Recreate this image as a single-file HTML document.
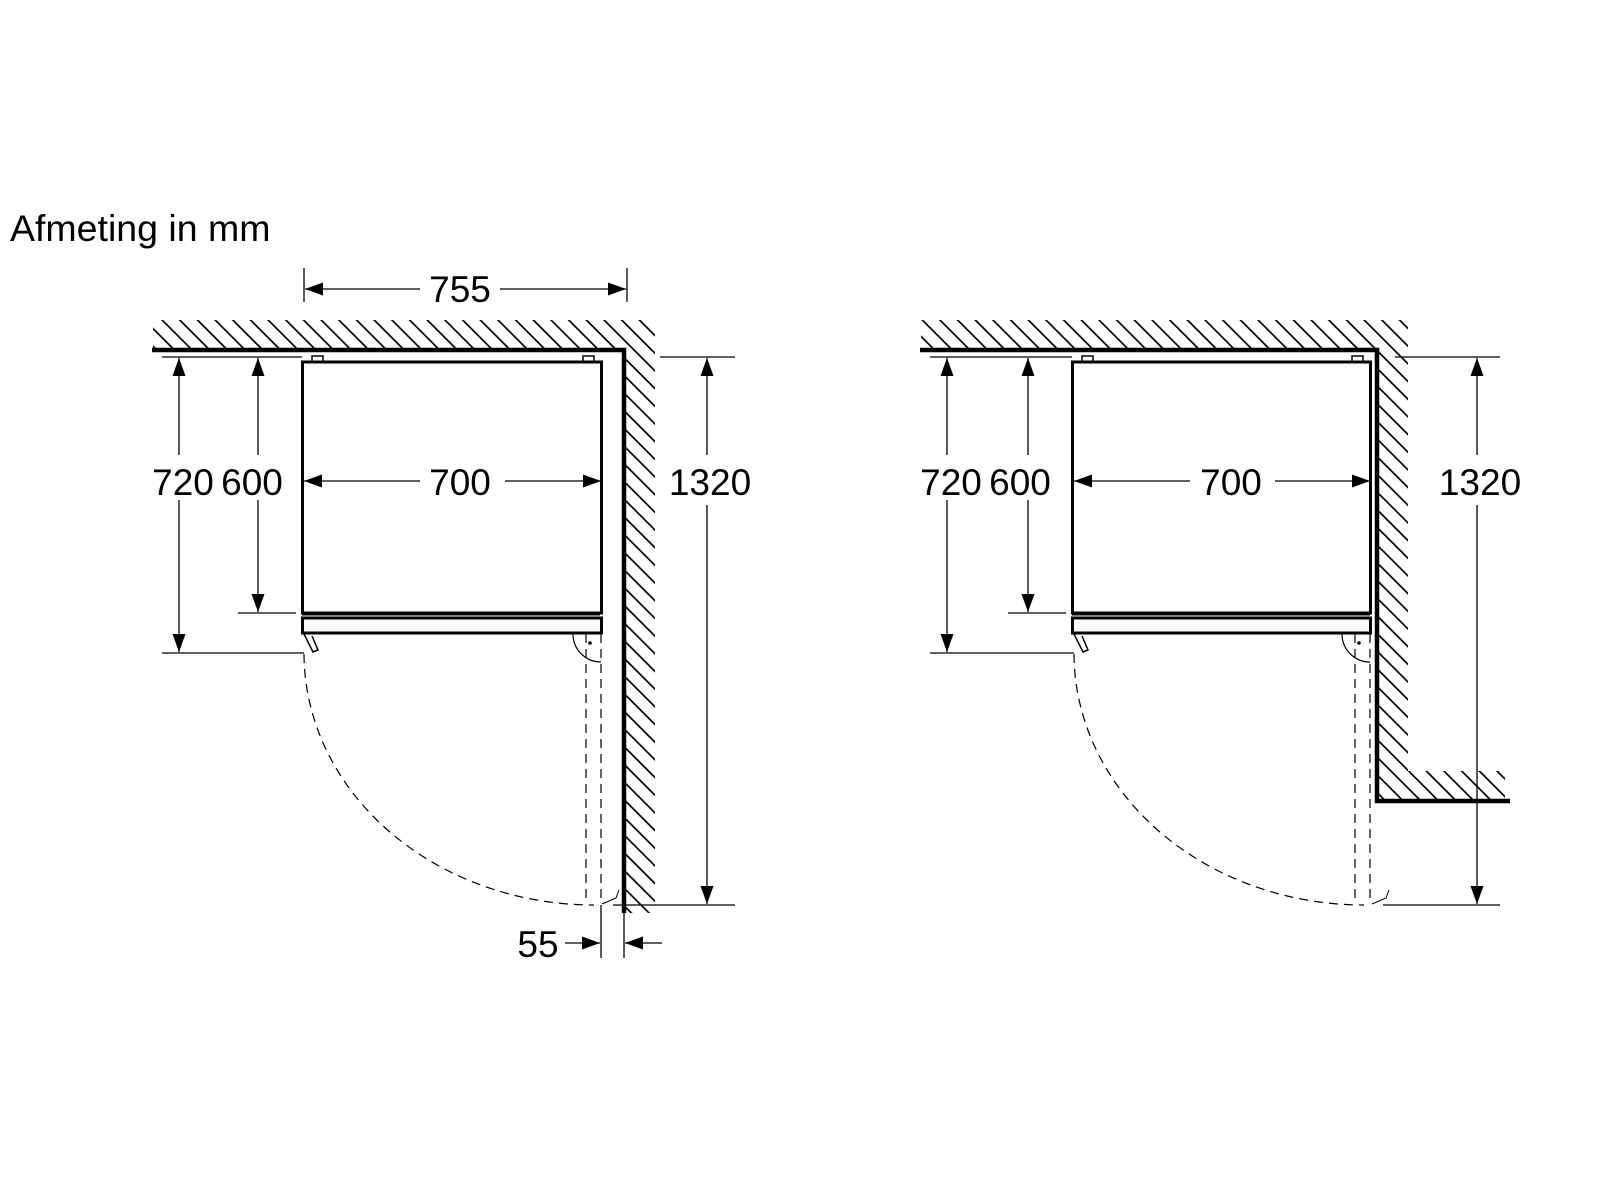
<!DOCTYPE html>
<html><head><meta charset="utf-8"><style>
html,body{margin:0;padding:0;background:#fff;width:1600px;height:1200px;overflow:hidden}
svg{display:block}
text{font-family:"Liberation Sans",Arial,sans-serif;fill:#000}
</style></head><body>
<svg width="1600" height="1200" viewBox="0 0 1600 1200" xmlns="http://www.w3.org/2000/svg">
<defs>
<pattern id="h" width="12.5" height="12.5" patternUnits="userSpaceOnUse" patternTransform="rotate(-45)">
<line x1="0" y1="0" x2="0" y2="12.5" stroke="#000" stroke-width="3.4"/>
</pattern>
<marker id="b" viewBox="0 0 18 13" refX="18" refY="6.5" markerWidth="18" markerHeight="13" markerUnits="userSpaceOnUse" orient="auto">
<path d="M0,0 L18,6.5 L0,13 z" fill="#000"/>
</marker>
</defs>
<text x="10" y="241" font-size="37.5">Afmeting in mm</text>

<!-- LEFT -->
<g>
<polygon points="153,320 655,320 655,913 624,913 624,350 153,350" fill="url(#h)"/>
<path d="M152,350 H624 V913" fill="none" stroke="#000" stroke-width="4.5"/>
<line x1="304" y1="268" x2="304" y2="302" stroke="#000" stroke-width="1.3"/>
<line x1="627" y1="268" x2="627" y2="302" stroke="#000" stroke-width="1.3"/>
<line x1="420" y1="289" x2="305" y2="289" stroke="#000" stroke-width="1.3" marker-end="url(#b)"/>
<line x1="500" y1="289" x2="626" y2="289" stroke="#000" stroke-width="1.3" marker-end="url(#b)"/>
<text x="460" y="302" font-size="37" text-anchor="middle">755</text>
<rect x="312" y="356" width="11" height="6" fill="none" stroke="#000" stroke-width="1.5"/>
<rect x="583" y="356" width="11" height="6" fill="none" stroke="#000" stroke-width="1.5"/>
<rect x="302.5" y="362" width="299" height="251" fill="none" stroke="#000" stroke-width="3"/>
<line x1="302" y1="615" x2="600" y2="615" stroke="#000" stroke-width="1"/>
<rect x="302.5" y="618" width="299" height="15" fill="none" stroke="#000" stroke-width="3"/>
<path d="M304,634 L313,652 L318,650 L312,636" fill="none" stroke="#000" stroke-width="1.5"/>
<line x1="420" y1="481" x2="304" y2="481" stroke="#000" stroke-width="1.3" marker-end="url(#b)"/>
<line x1="505" y1="481" x2="601" y2="481" stroke="#000" stroke-width="1.3" marker-end="url(#b)"/>
<text x="460" y="495" font-size="37" text-anchor="middle">700</text>
<line x1="162" y1="357" x2="302" y2="357" stroke="#000" stroke-width="1.3"/>
<line x1="238" y1="613" x2="296" y2="613" stroke="#000" stroke-width="1.3"/>
<line x1="162" y1="653" x2="304" y2="653" stroke="#000" stroke-width="1.3"/>
<line x1="179" y1="455" x2="179" y2="358" stroke="#000" stroke-width="1.3" marker-end="url(#b)"/>
<line x1="179" y1="500" x2="179" y2="652" stroke="#000" stroke-width="1.3" marker-end="url(#b)"/>
<line x1="258" y1="455" x2="258" y2="358" stroke="#000" stroke-width="1.3" marker-end="url(#b)"/>
<line x1="258" y1="500" x2="258" y2="612" stroke="#000" stroke-width="1.3" marker-end="url(#b)"/>
<text x="183" y="495" font-size="37" text-anchor="middle">720</text>
<text x="252" y="495" font-size="37" text-anchor="middle">600</text>
<line x1="660" y1="357" x2="735" y2="357" stroke="#000" stroke-width="1.3"/>
<line x1="613" y1="905" x2="735" y2="905" stroke="#000" stroke-width="1.3"/>
<line x1="707" y1="455" x2="707" y2="358" stroke="#000" stroke-width="1.3" marker-end="url(#b)"/>
<line x1="707" y1="505" x2="707" y2="904" stroke="#000" stroke-width="1.3" marker-end="url(#b)"/>
<text x="710" y="495" font-size="37" text-anchor="middle">1320</text>
<path d="M304,654 A290,252 0 0 0 594,905" fill="none" stroke="#000" stroke-width="1.2" stroke-dasharray="9,6"/>
<line x1="586" y1="634" x2="586" y2="903" stroke="#000" stroke-width="1.2" stroke-dasharray="9,6"/>
<line x1="601" y1="634" x2="601" y2="903" stroke="#000" stroke-width="1.2" stroke-dasharray="9,6"/>
<path d="M573,634 A28,28 0 0 0 601,662" fill="none" stroke="#000" stroke-width="1.2"/>
<circle cx="590" cy="643" r="1.8" fill="#000"/>
<path d="M602,904 L616,898 L619,890" fill="none" stroke="#000" stroke-width="1"/>
<line x1="601" y1="905" x2="601" y2="958" stroke="#000" stroke-width="1.3"/>
<line x1="624" y1="913" x2="624" y2="958" stroke="#000" stroke-width="1.3"/>
<line x1="565" y1="943" x2="600" y2="943" stroke="#000" stroke-width="1.3" marker-end="url(#b)"/>
<line x1="662" y1="943" x2="625" y2="943" stroke="#000" stroke-width="1.3" marker-end="url(#b)"/>
<text x="538" y="957" font-size="37" text-anchor="middle">55</text>
</g>

<!-- RIGHT -->
<g>
<polygon points="921,320 1408,320 1408,771 1505,771 1505,801 1377,801 1377,350 921,350" fill="url(#h)"/>
<path d="M920,350 H1377 V801 H1510" fill="none" stroke="#000" stroke-width="4.5"/>
<rect x="1082" y="356" width="11" height="6" fill="none" stroke="#000" stroke-width="1.5"/>
<rect x="1352" y="356" width="11" height="6" fill="none" stroke="#000" stroke-width="1.5"/>
<rect x="1072.5" y="362" width="298" height="251" fill="none" stroke="#000" stroke-width="3"/>
<line x1="1072" y1="615" x2="1370" y2="615" stroke="#000" stroke-width="1"/>
<rect x="1072.5" y="618" width="298" height="15" fill="none" stroke="#000" stroke-width="3"/>
<path d="M1074,634 L1083,652 L1088,650 L1082,636" fill="none" stroke="#000" stroke-width="1.5"/>
<line x1="1190" y1="481" x2="1074" y2="481" stroke="#000" stroke-width="1.3" marker-end="url(#b)"/>
<line x1="1275" y1="481" x2="1370" y2="481" stroke="#000" stroke-width="1.3" marker-end="url(#b)"/>
<text x="1231" y="495" font-size="37" text-anchor="middle">700</text>
<line x1="930" y1="357" x2="1072" y2="357" stroke="#000" stroke-width="1.3"/>
<line x1="1008" y1="613" x2="1066" y2="613" stroke="#000" stroke-width="1.3"/>
<line x1="930" y1="653" x2="1074" y2="653" stroke="#000" stroke-width="1.3"/>
<line x1="947" y1="455" x2="947" y2="358" stroke="#000" stroke-width="1.3" marker-end="url(#b)"/>
<line x1="947" y1="500" x2="947" y2="652" stroke="#000" stroke-width="1.3" marker-end="url(#b)"/>
<line x1="1028" y1="455" x2="1028" y2="358" stroke="#000" stroke-width="1.3" marker-end="url(#b)"/>
<line x1="1028" y1="500" x2="1028" y2="612" stroke="#000" stroke-width="1.3" marker-end="url(#b)"/>
<text x="951" y="495" font-size="37" text-anchor="middle">720</text>
<text x="1020" y="495" font-size="37" text-anchor="middle">600</text>
<line x1="1395" y1="357" x2="1500" y2="357" stroke="#000" stroke-width="1.3"/>
<line x1="1383" y1="905" x2="1500" y2="905" stroke="#000" stroke-width="1.3"/>
<line x1="1477" y1="455" x2="1477" y2="358" stroke="#000" stroke-width="1.3" marker-end="url(#b)"/>
<line x1="1477" y1="505" x2="1477" y2="904" stroke="#000" stroke-width="1.3" marker-end="url(#b)"/>
<text x="1480" y="495" font-size="37" text-anchor="middle">1320</text>
<path d="M1074,654 A290,252 0 0 0 1364,905" fill="none" stroke="#000" stroke-width="1.2" stroke-dasharray="9,6"/>
<line x1="1355" y1="634" x2="1355" y2="903" stroke="#000" stroke-width="1.2" stroke-dasharray="9,6"/>
<line x1="1370" y1="634" x2="1370" y2="903" stroke="#000" stroke-width="1.2" stroke-dasharray="9,6"/>
<path d="M1342,634 A28,28 0 0 0 1370,662" fill="none" stroke="#000" stroke-width="1.2"/>
<circle cx="1359" cy="643" r="1.8" fill="#000"/>
<path d="M1372,904 L1386,898 L1389,890" fill="none" stroke="#000" stroke-width="1"/>
</g>
</svg>
</body></html>
